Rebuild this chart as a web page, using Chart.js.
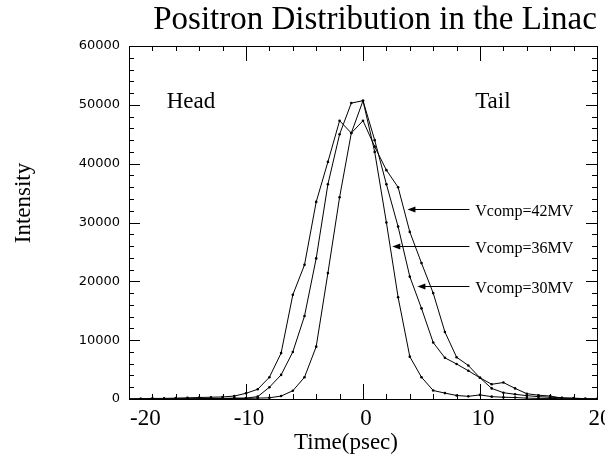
<!DOCTYPE html>
<html>
<head>
<meta charset="utf-8">
<script src="https://cdn.jsdelivr.net/npm/chart.js@4.4.1/dist/chart.umd.min.js"></script>
<style>
  html, body { margin: 0; padding: 0; background: #fff; }
</style>
</head>
<body>
<canvas id="positronChart" width="605" height="462"></canvas>
<script>
// time axis, psec (one sample per psec)
const timePs = [];
for (let t = -20; t <= 20; t++) timePs.push(t);

const xTickLabels = [-20, -10, 0, 10, 20];
const yTickLabels = [0, 10000, 20000, 30000, 40000, 50000, 60000];

// intensities, t = -20 .. 20
const vcomp42 = [0, 50, 100, 100, 150, 200, 250, 300, 350, 500,
  970, 1650, 3700, 7800, 17700, 22800, 33500, 40300, 47300, 45200,
  47300, 42900, 38900, 36000, 28400, 23100, 18000, 11400, 7100, 5700,
  3600, 2500, 2800, 1800, 900, 650, 500, 150, 100, 50, 0];
const vcomp36 = [0, 0, 0, 0, 0, 0, 50, 50, 50, 100,
  100, 150, 200, 500, 1400, 3700, 8900, 21400, 34300, 45200,
  50700, 42000, 30000, 17300, 7200, 3700, 1450, 1000, 600, 450,
  700, 400, 300, 250, 150, 100, 100, 50, 0, 0, 0];
const vcomp30 = [0, 0, 0, 0, 50, 50, 50, 100, 100, 150,
  150, 400, 2000, 4100, 8000, 14100, 23900, 36500, 45000, 50300,
  50700, 44000, 36500, 29300, 20800, 15400, 9600, 7000, 5950, 4800,
  3600, 1800, 1070, 800, 570, 400, 300, 200, 150, 50, 0];

const seriesNames = ['Vcomp=42MV', 'Vcomp=36MV', 'Vcomp=30MV'];
const seriesValues = [vcomp42, vcomp36, vcomp30];
// where each label's arrow points (time, intensity)
const arrowTips = [[3.8, 32300], [2.5, 26000], [4.65, 19200]];

const SERIF = '"Liberation Serif", "Times New Roman", serif';
const SANS = '"DejaVu Sans", "Liberation Sans", sans-serif';

function tickSet(min, max, step) {
  const out = [];
  for (let v = min; v <= max + 1e-9; v += step) out.push(v);
  return out;
}

const framePlugin = {
  id: 'frame',
  afterDraw(chart) {
    const { ctx, chartArea: a, scales: { x, y } } = chart;
    ctx.save();
    ctx.strokeStyle = '#000';
    ctx.fillStyle = '#000';
    ctx.lineWidth = 1;
    ctx.strokeRect(Math.round(a.left) + 0.5, Math.round(a.top) + 0.5,
      Math.round(a.right - a.left), Math.round(a.bottom - a.top));

    // inward ticks on every side
    ctx.beginPath();
    tickSet(-20, 20, 2).forEach(v => {
      const px = Math.round(x.getPixelForValue(v)) + 0.5;
      const len = v % 10 === 0 ? 15 : 5;
      ctx.moveTo(px, a.bottom); ctx.lineTo(px, a.bottom - len);
      ctx.moveTo(px, a.top); ctx.lineTo(px, a.top + len);
    });
    tickSet(0, 60000, 2000).forEach(v => {
      const py = Math.round(y.getPixelForValue(v)) + 0.5;
      const len = v % 10000 === 0 ? 11 : 5;
      ctx.moveTo(a.left, py); ctx.lineTo(a.left + len, py);
      ctx.moveTo(a.right, py); ctx.lineTo(a.right - len, py);
    });
    ctx.stroke();

    // x tick labels
    ctx.font = '23px ' + SERIF;
    ctx.textAlign = 'center';
    ctx.textBaseline = 'middle';
    xTickLabels.forEach(v => {
      const s = String(v);
      const w = ctx.measureText(s).width;
      const cx = Math.max(x.getPixelForValue(v) + 3, a.left + w / 2 + 1);
      ctx.fillText(s, cx, a.bottom + 20);
    });

    // titles
    ctx.font = '33px ' + SERIF;
    ctx.fillText('Positron Distribution in the Linac', 375, 20);
    ctx.font = '23px ' + SERIF;
    ctx.fillText('Time(psec)', 346, 443);
    ctx.save();
    ctx.translate(24, 203);
    ctx.rotate(-Math.PI / 2);
    ctx.fillText('Intensity', 0, 0);
    ctx.restore();

    // Head / Tail
    ctx.fillText('Head', x.getPixelForValue(-14.7), y.getPixelForValue(50500));
    ctx.fillText('Tail', x.getPixelForValue(11.1), y.getPixelForValue(50500));

    // series labels with arrows
    ctx.font = '16px ' + SERIF;
    ctx.textAlign = 'left';
    seriesNames.forEach((name, i) => {
      const [tx, ty] = arrowTips[i];
      const py = Math.round(y.getPixelForValue(ty)) + 0.5;
      const x0 = x.getPixelForValue(9.1);
      const xt = x.getPixelForValue(tx);
      ctx.beginPath();
      ctx.moveTo(x0, py); ctx.lineTo(xt + 6, py);
      ctx.stroke();
      ctx.beginPath();
      ctx.moveTo(xt, py); ctx.lineTo(xt + 8, py - 3); ctx.lineTo(xt + 8, py + 3);
      ctx.closePath(); ctx.fill();
      ctx.fillText(name, x.getPixelForValue(9.6), py + 2);
    });
    ctx.restore();
  }
};

new Chart(document.getElementById('positronChart'), {
  type: 'line',
  data: {
    datasets: seriesValues.map((vals, i) => ({
      label: seriesNames[i],
      data: vals.map((v, k) => ({ x: timePs[k], y: v })),
      borderColor: '#000',
      backgroundColor: '#000',
      borderWidth: 1,
      pointRadius: 1.3,
      pointBorderWidth: 0,
      tension: 0
    }))
  },
  options: {
    responsive: false,
    animation: false,
    devicePixelRatio: 1,
    layout: { padding: { top: 46, right: 8, left: 0, bottom: 0 } },
    plugins: { legend: { display: false }, tooltip: { enabled: false } },
    scales: {
      x: {
        type: 'linear', min: -20, max: 20,
        grid: { display: false, drawTicks: false },
        border: { display: false },
        afterFit(s) { s.height = 63; },
        ticks: { display: false }
      },
      y: {
        min: 0, max: 60000,
        grid: { display: false, drawTicks: false },
        border: { display: false },
        afterFit(s) { s.width = 129; },
        afterBuildTicks(s) { s.ticks = yTickLabels.map(v => ({ value: v })); },
        ticks: { color: '#000', padding: 9, font: { family: SANS, size: 13 }, callback: v => String(v) }
      }
    }
  },
  plugins: [framePlugin]
});
</script>
</body>
</html>
